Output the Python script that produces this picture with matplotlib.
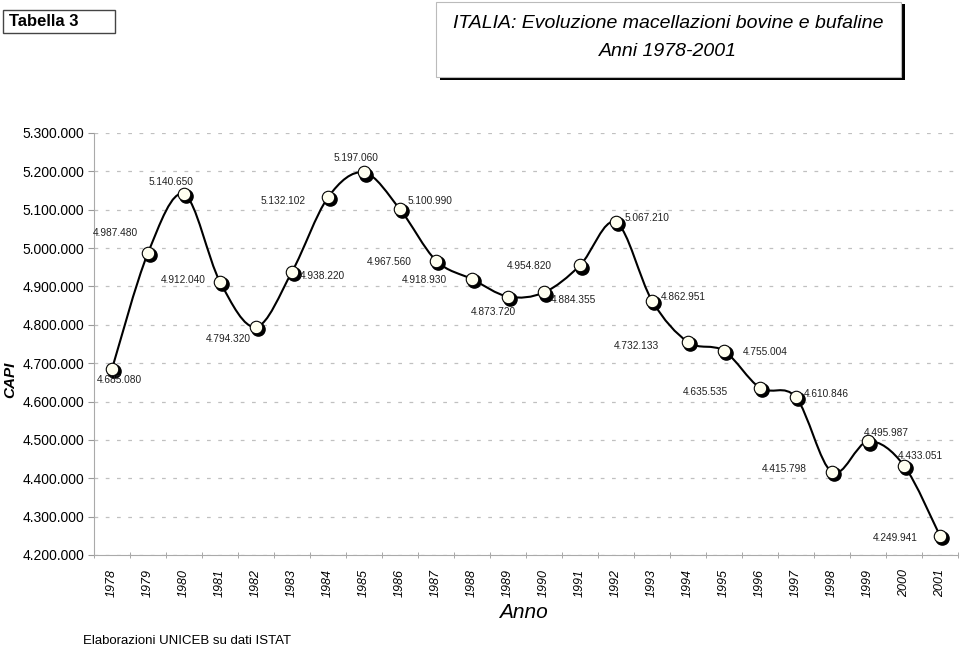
#-----------------------------------------------------------------------
#  ITALIA: evoluzione macellazioni bovine e bufaline 1978-2001
#-----------------------------------------------------------------------
import numpy as np
import matplotlib
matplotlib.use("Agg")
import matplotlib.pyplot as plt
from matplotlib.path import Path
from matplotlib.patches import PathPatch, Rectangle
from matplotlib.ticker import FuncFormatter, FixedLocator
from matplotlib.transforms import offset_copy

plt.rcParams['font.family'] = ['Liberation Sans', 'DejaVu Sans']

# dati (capi macellati)
anni = ['1978', '1979', '1980', '1981', '1982', '1983', '1984', '1985',
        '1986', '1987', '1988', '1989', '1990', '1991', '1992', '1993',
        '1994', '1995', '1996', '1997', '1998', '1999', '2000', '2001']
capi = [4685080, 4987480, 5140650, 4912040, 4794320, 4938220, 5132102, 5197060,
        5100990, 4967560, 4918930, 4873720, 4884355, 4954820, 5067210, 4862951,
        4755004, 4732133, 4635535, 4610846, 4415798, 4495987, 4433051, 4249941]
# etichette come appaiono nel grafico originale
etichette = ['4.685.080', '4.987.480', '5.140.650', '4.912.040', '4.794.320',
             '4.938.220', '5.132.102', '5.197.060', '5.100.990', '4.967.560',
             '4.918.930', '4.873.720', '4.884.355', '4.954.820', '5.067.210',
             '4.862.951', '4.732.133', '4.755.004', '4.635.535', '4.610.846',
             '4.415.798', '4.495.987', '4.433.051', '4.249.941']
# spostamento etichette (pixel)
offset_etichette = [(7, -11), (-33, 20), (-13, 12), (-37, 2), (-28, -12), (30, -4),
                    (-45, -4), (-8, 14), (30, 8), (-47, -1), (-48, -1), (-15, -15),
                    (29, -8), (-51, -1), (31, 4), (31, 4), (-52, -4), (41, -1),
                    (-55, -4), (30, 3), (-48, 3), (18, 8), (16, 10), (-45, -2)]

fig = plt.figure(figsize=(9.6, 6.48), dpi=100)
ax = fig.add_axes([94 / 960, 1 - 555 / 648, 864 / 960, 422 / 648])

x = np.arange(len(anni))
y = np.array(capi, dtype=float)

# linea smussata (bezier tipo Excel)
verts = [(x[0], y[0])]
codes = [Path.MOVETO]
for i in range(len(x) - 1):
    p0 = np.array([x[max(i - 1, 0)], y[max(i - 1, 0)]])
    p1 = np.array([x[i], y[i]])
    p2 = np.array([x[i + 1], y[i + 1]])
    p3 = np.array([x[min(i + 2, len(x) - 1)], y[min(i + 2, len(x) - 1)]])
    c1 = p1 + (p2 - p0) / 6
    c2 = p2 - (p3 - p1) / 6
    verts += [tuple(c1), tuple(c2), tuple(p2)]
    codes += [Path.CURVE4] * 3
ax.add_patch(PathPatch(Path(verts, codes), fill=False, lw=1.5, ec='black', zorder=3))

# marcatori con ombra
ombra = offset_copy(ax.transData, fig=fig, x=1.5, y=-1.5, units='points')
ax.plot(x, y, 'o', ms=9.5, color='black', transform=ombra, zorder=4)
ax.plot(x, y, 'o', ms=9, mfc='#fffff0', mec='black', mew=0.8, zorder=5)

for i in range(len(x)):
    ax.annotate(etichette[i], (x[i], y[i]), xytext=offset_etichette[i],
                textcoords='offset pixels', ha='center', va='center',
                fontsize=7.3, color='#222222', zorder=6)

ax.set_xlim(-0.5, len(anni) - 0.5)
ax.set_ylim(4200000, 5300000)
ax.set_yticks(np.arange(4200000, 5300001, 100000))
ax.yaxis.set_major_formatter(FuncFormatter(lambda v, p: f"{v:,.0f}".replace(",", ".")))
ax.tick_params(axis='y', labelsize=10, length=4, color='#999999', pad=3)

ax.set_xticks(x)
ax.set_xticklabels(anni, rotation=90, fontstyle='italic', fontsize=9)
ax.tick_params(axis='x', which='major', length=0, pad=10)
ax.xaxis.set_minor_locator(FixedLocator(np.arange(-0.5, len(anni), 1)))
ax.tick_params(axis='x', which='minor', length=5, direction='inout', color='#999999')

ax.grid(axis='y', color='#c0c0c0', ls=(0, (3, 6)), lw=0.9)
ax.set_axisbelow(True)
for s in ['top', 'right']:
    ax.spines[s].set_visible(False)
for s in ['left', 'bottom']:
    ax.spines[s].set_color('#aaaaaa')

fig.text(10 / 960, 1 - 380 / 648, 'CAPI', rotation=90, fontsize=11,
         fontweight='bold', fontstyle='italic', ha='center', va='center')
fig.text(523 / 960, 1 - 612 / 648, 'Anno', fontsize=15, fontstyle='italic',
         ha='center', va='center')
fig.text(83 / 960, 1 - 641 / 648, 'Elaborazioni UNICEB su dati ISTAT', fontsize=9.5,
         ha='left', va='center')

# riquadro "Tabella 3"
fig.patches.append(Rectangle((3 / 960, 1 - 33 / 648), 112 / 960, 23 / 648,
                             transform=fig.transFigure, fc='white', ec='#444444', lw=1))
fig.text(9 / 960, 1 - 21 / 648, 'Tabella 3', fontsize=12, fontweight='bold',
         ha='left', va='center')

# riquadro titolo con ombra
fig.patches.append(Rectangle((440 / 960, 1 - 80 / 648), 465 / 960, 76 / 648,
                             transform=fig.transFigure, fc='black', ec='none'))
fig.patches.append(Rectangle((436 / 960, 1 - 77 / 648), 465 / 960, 75 / 648,
                             transform=fig.transFigure, fc='white', ec='#bbbbbb', lw=0.8))
fig.text(668 / 960, 1 - 23 / 648, 'ITALIA: Evoluzione macellazioni bovine e bufaline',
         fontsize=14, fontstyle='italic', ha='center', va='center')
fig.text(668 / 960, 1 - 52 / 648, 'Anni 1978-2001', fontsize=14, fontstyle='italic',
         ha='center', va='center')

fig.savefig('out.png', dpi=100)
